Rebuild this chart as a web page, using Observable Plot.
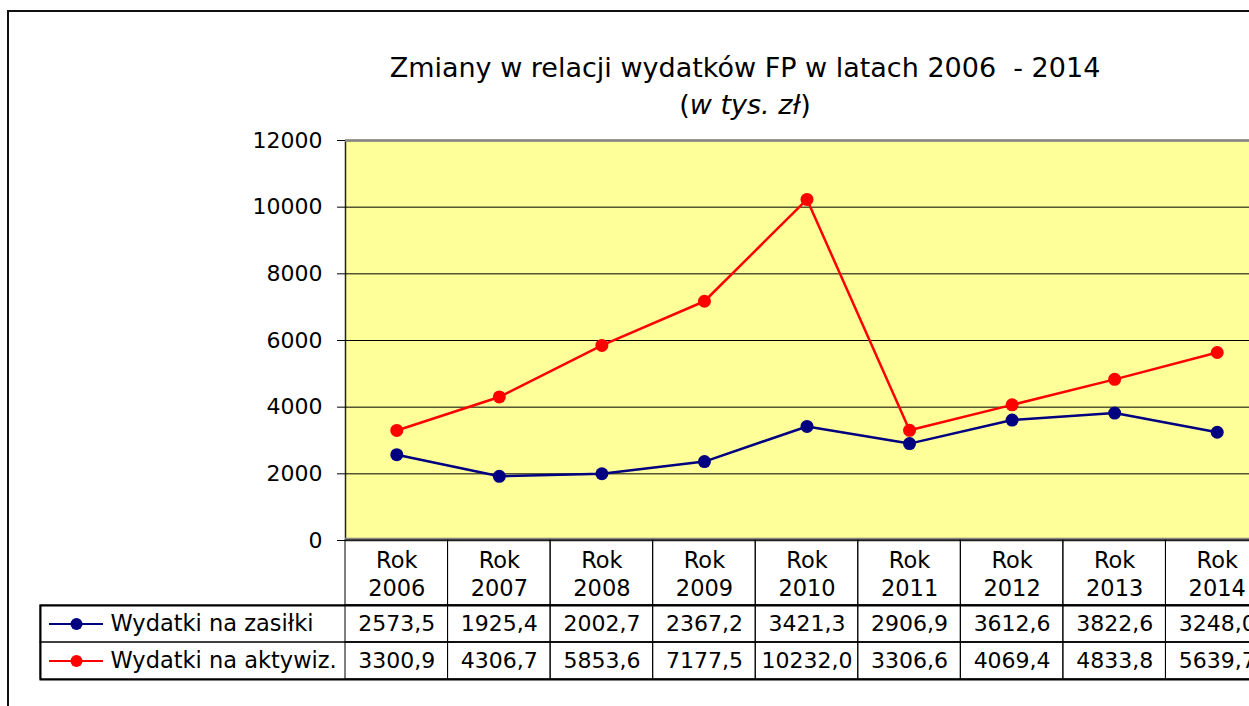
<!DOCTYPE html>
<html>
<head>
<meta charset="utf-8">
<script src="https://cdn.jsdelivr.net/npm/d3@7"></script>
<script src="https://cdn.jsdelivr.net/npm/@observablehq/plot@0.6"></script>
<style>
  html, body { margin: 0; padding: 0; background: white; overflow: hidden; }
  #wrap { position: relative; width: 1249px; height: 706px; overflow: hidden; font-family: "DejaVu Sans", sans-serif; }
  #border { position: absolute; left: 7px; top: 10px; width: 1300px; height: 800px; border-left: 2px solid #111; border-top: 2px solid #111; }
  .layer { position: absolute; left: 0; top: 0; }
  .title { position: absolute; white-space: pre; transform: translateX(-50%); font-size: 27px; color: #000; }
</style>
</head>
<body>
<div id="wrap">
  <div id="border"></div>
  <div class="title" style="left:745px; top:52px;">Zmiany w relacji wydatków FP w latach 2006  - 2014</div>
  <div class="title" style="left:745px; top:89px;">(<i>w tys. zł</i>)</div>
</div>
<script>
// ---- data ----
const years = ["2006", "2007", "2008", "2009", "2010", "2011", "2012", "2013", "2014"];
const seriesNames = ["Wydatki na zasiłki", "Wydatki na aktywiz."];
const zasilki = [2573.5, 1925.4, 2002.7, 2367.2, 3421.3, 2906.9, 3612.6, 3822.6, 3248.0];
const aktywiz = [3300.9, 4306.7, 5853.6, 7177.5, 10232.0, 3306.6, 4069.4, 4833.8, 5639.7];
const yTicks = [0, 2000, 4000, 6000, 8000, 10000, 12000];
const colors = ["#000080", "#FF0000"];

const rows = [];
[zasilki, aktywiz].forEach((vals, i) => {
  vals.forEach((v, j) => rows.push({series: seriesNames[i], year: years[j], value: v}));
});
const fmt = v => v.toFixed(1).replace(".", ",");

const W = 1249, H = 706;
const xScale = {type: "band", domain: years, range: [345, 1268], padding: 0, round: false, axis: null};
const baseStyle = {background: "none", fontFamily: "DejaVu Sans, sans-serif", fontSize: "22px", color: "black", overflow: "hidden"};
const colorScale = {domain: seriesNames, range: colors};

// ---- chart ----
const chart = Plot.plot({
  width: W, height: H,
  marginLeft: 345, marginTop: 140, marginBottom: H - 540, marginRight: -40,
  style: baseStyle,
  x: xScale,
  y: {domain: [0, 12000], ticks: yTicks, tickSize: 8, tickPadding: 15, label: null, tickFormat: d => String(d)},
  color: colorScale,
  marks: [
    Plot.frame({fill: "#FFFF99", stroke: "#222", strokeWidth: 1.5}),
    Plot.ruleY(yTicks.filter(t => t > 0 && t < 12000), {stroke: "black", strokeWidth: 1}),
    Plot.ruleY([12000], {stroke: "#888", strokeWidth: 2.5}),
    Plot.ruleY([0], {stroke: "#888", strokeWidth: 2.5, dy: -1.5}),
    Plot.line(rows, {x: "year", y: "value", z: "series", stroke: "series", strokeWidth: 2.5}),
    Plot.dot(rows, {x: "year", y: "value", fill: "series", r: 6.5, stroke: null})
  ]
});
chart.classList.add("layer");

// ---- header row of data table ----
const header = Plot.plot({
  width: W, height: H,
  marginLeft: 345, marginTop: 540, marginBottom: H - 605, marginRight: -40,
  style: baseStyle,
  x: xScale,
  y: {type: "band", domain: ["Rok"], padding: 0, round: false, axis: null},
  marks: [
    Plot.cell(years, {x: d => d, y: () => "Rok", fill: "none", stroke: "black", strokeWidth: 1}),
    Plot.text(years, {x: d => d, y: () => "Rok", text: d => `Rok\n${d}`, fontSize: 22.5, lineHeight: 1.25, fill: "black"})
  ]
});
header.classList.add("layer");

// ---- data rows with legend ----
const table = Plot.plot({
  width: W, height: H,
  marginLeft: 40, marginTop: 605, marginBottom: H - 679, marginRight: -40,
  style: baseStyle,
  x: xScale,
  y: {type: "band", domain: seriesNames, padding: 0, round: false, axis: null},
  color: colorScale,
  marks: [
    Plot.cell(seriesNames, {y: d => d, fill: "none", stroke: "black", strokeWidth: 1}),
    Plot.cell(rows, {x: "year", y: "series", fill: "none", stroke: "black", strokeWidth: 1}),
    Plot.frame({stroke: "black", strokeWidth: 2}),
    Plot.text(rows, {x: "year", y: "series", text: d => fmt(d.value), fontSize: 22, fill: "black"}),
    Plot.ruleY(seriesNames, {y: d => d, stroke: d => d, strokeWidth: 2, insetLeft: 9, insetRight: (W + 40) - 103}),
    Plot.dot(seriesNames, {y: d => d, frameAnchor: "left", dx: 36, r: 6, fill: d => d, stroke: null}),
    Plot.text(seriesNames, {y: d => d, text: d => d, frameAnchor: "left", dx: 70, textAnchor: "start", fontSize: 22.5, fill: "black"})
  ]
});
table.classList.add("layer");

const wrap = document.getElementById("wrap");
wrap.appendChild(chart);
wrap.appendChild(header);
wrap.appendChild(table);
</script>
</body>
</html>
